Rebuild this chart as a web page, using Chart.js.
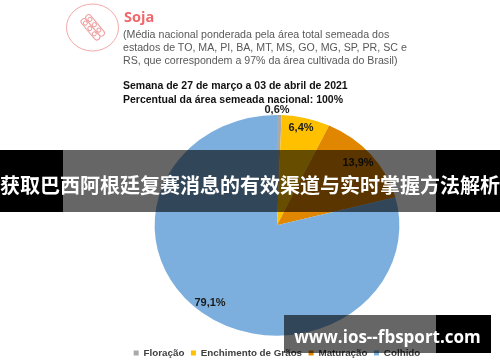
<!DOCTYPE html>
<html><head><meta charset="utf-8">
<script src="https://cdn.jsdelivr.net/npm/chart.js@4"></script>
<style>
html,body{margin:0;padding:0;background:#fff;width:500px;height:362px;overflow:hidden}
#wrap{position:relative;width:500px;height:362px;overflow:hidden}
#base{position:absolute;left:0;top:0;width:500px;height:362px;overflow:hidden;filter:blur(.45px)}
canvas{position:absolute;left:0;top:0}
.t{position:absolute;white-space:nowrap;font-family:"Liberation Sans",Arial,sans-serif}
.sub{left:123px;font-size:10.65px;color:#595959;line-height:13.2px}
.bold{left:123px;font-size:10.5px;font-weight:bold;color:#111}
.veil{position:absolute;background:rgba(0,0,0,.6)}
.solid{position:absolute;background:#000}
</style></head><body>
<div id="wrap">
<div id="base">
<svg style="position:absolute;left:0;top:0" width="140" height="60">
<ellipse cx="92.5" cy="27.5" rx="26" ry="23.5" fill="none" stroke="#f4a6a6" stroke-width="1"/>
<g fill="none" stroke="#f0a0a0" stroke-width="1" transform="rotate(50 92 28)">
<rect x="79" y="21" width="26" height="6" rx="3"/><rect x="79" y="27" width="26" height="6" rx="3"/>
<circle cx="84" cy="24" r="2"/><circle cx="91" cy="24" r="2"/><circle cx="98" cy="24" r="2"/>
<circle cx="84" cy="30" r="2"/><circle cx="91" cy="30" r="2"/><circle cx="98" cy="30" r="2"/>
</g></svg>
<div class="t" style="left:124px;top:7px;font:bold 14.5px 'Open Sans',sans-serif;color:#f0686c">Soja</div>
<div class="t sub" style="top:28px">(Média nacional ponderada pela área total semeada dos<br>estados de TO, MA, PI, BA, MT, MS, GO, MG, SP, PR, SC e<br>RS, que correspondem a 97% da área cultivada do Brasil)</div>
<div class="t bold" style="top:79px">Semana de 27 de março a 03 de abril de 2021</div>
<div class="t bold" style="top:93px">Percentual da área semeada nacional: 100%</div>
<canvas id="c" width="554" height="362"></canvas>
</div>
<div class="solid" style="left:0;top:150px;width:63px;height:62px"></div>
<div class="solid" style="left:436px;top:150px;width:64px;height:62px"></div>
<div class="veil" style="left:63px;top:150px;width:373px;height:62px"></div>
<div class="t" style="left:0;top:150px;width:500px;text-align:center;color:#fff;font:bold 20px/70px 'Noto Sans CJK SC',sans-serif">获取巴西阿根廷复赛消息的有效渠道与实时掌握方法解析</div>
<div class="veil" style="left:284px;top:315px;width:152px;height:38px"></div>
<div class="solid" style="left:436px;top:315px;width:55px;height:38px"></div>
<div class="t" style="left:284px;top:315px;width:207px;text-align:center;color:#fff;font:bold 17px/43px 'Open Sans',sans-serif">www.ios--fbsport.com</div>
</div>
<script>
const categories=["Floração","Enchimento de Grãos","Maturação","Colhido"];
const shares=[0.6,6.4,13.9,79.1];
const labelsText=["0,6%","6,4%","13,9%","79,1%"];
const sliceColors=["#a9a9a9","#ffc000","#e08600","#7cafde"];
const STRETCH=122/110;
const stretch={id:"stretch",
 afterLayout(ch){ch.legend.top+=6;ch.legend.bottom+=6;},
 beforeDatasetsDraw(ch){const a=ch.getDatasetMeta(0).data[0],c=ch.ctx;c.save();c.translate(a.x,a.y);c.scale(STRETCH,1);c.translate(-a.x,-a.y);},
 afterDatasetsDraw(ch){ch.ctx.restore();
  const c=ch.ctx,d=ch.getDatasetMeta(0).data;
  c.save();c.font="bold 11px 'Liberation Sans',Arial";c.fillStyle="#1a1a1a";c.textAlign="center";c.textBaseline="middle";
  const pos=[[0,-115],[24,-97],[81,-62],[-67,78]];
  d.forEach((a,i)=>c.fillText(labelsText[i],a.x+pos[i][0],a.y+pos[i][1]));
  c.restore();}};
new Chart(document.getElementById("c"),{type:"pie",
 data:{labels:categories,datasets:[{data:shares,backgroundColor:sliceColors,borderWidth:0}]},
 options:{responsive:false,animation:false,
  layout:{padding:{left:0,right:0,top:115,bottom:0}},
  plugins:{tooltip:{enabled:false},
   legend:{position:"bottom",labels:{boxWidth:5,boxHeight:5,padding:6.5,color:"#404040",font:{size:9.8,weight:"bold",family:"'Liberation Sans',Arial"}}}}},
 plugins:[stretch]});
</script>
</body></html>
